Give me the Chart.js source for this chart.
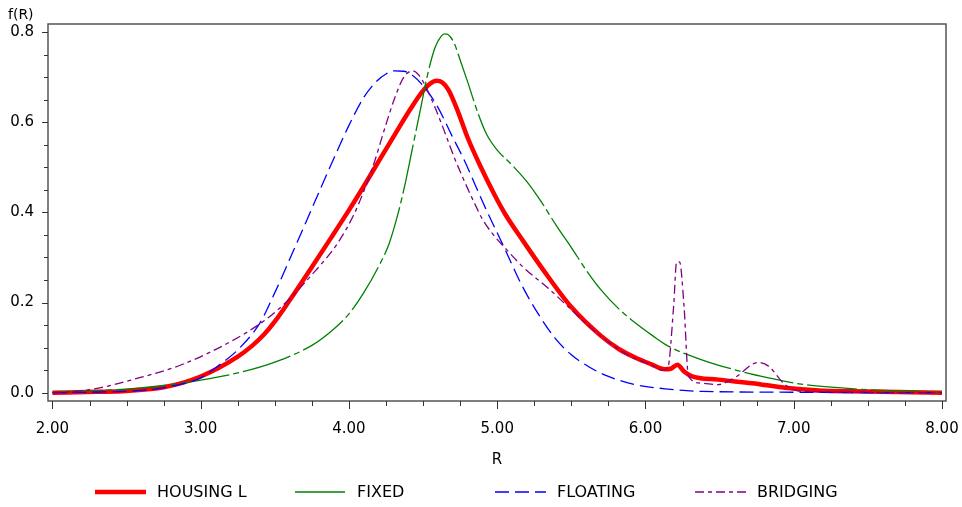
<!DOCTYPE html>
<html><head><meta charset="utf-8">
<script src="https://cdn.jsdelivr.net/npm/chart.js@4/dist/chart.umd.min.js"></script>
<style>html,body{margin:0;padding:0;background:#fff;}#wrap{width:962px;height:507px;}</style>
</head><body><div id="wrap"><canvas id="c" width="962" height="507"></canvas></div>
<script>
const seriesNames = ['HOUSING L', 'FIXED', 'FLOATING', 'BRIDGING'];

const housingR = [2.0, 2.3, 2.5, 2.75, 3.0, 3.25, 3.35, 3.43, 3.5, 3.6, 3.75, 3.88, 4.0, 4.1, 4.2, 4.31, 4.42, 4.5, 4.55, 4.59, 4.63, 4.67, 4.73, 4.80, 4.89, 4.98, 5.05, 5.18, 5.32, 5.50, 5.70, 5.82, 5.93, 6.04, 6.13, 6.17, 6.215, 6.26, 6.31, 6.49, 6.72, 6.94, 7.17, 7.39, 8.0];
const housingF = [0.0, 0.002, 0.004, 0.012, 0.036, 0.08, 0.105, 0.13, 0.158, 0.205, 0.279, 0.344, 0.405, 0.458, 0.513, 0.573, 0.632, 0.67, 0.686, 0.692, 0.688, 0.672, 0.628, 0.566, 0.5, 0.44, 0.398, 0.334, 0.268, 0.19, 0.126, 0.097, 0.078, 0.063, 0.052, 0.053, 0.062, 0.047, 0.037, 0.029, 0.021, 0.011, 0.005, 0.003, 0.0];

const fixedR = [2.0, 2.25, 2.5, 2.75, 3.0, 3.25, 3.5, 3.75, 3.9, 4.0, 4.1, 4.2, 4.27, 4.33, 4.38, 4.43, 4.48, 4.53, 4.58, 4.62, 4.645, 4.67, 4.71, 4.75, 4.80, 4.87, 4.93, 5.0, 5.1, 5.2, 5.3, 5.4, 5.5, 5.6, 5.7, 5.82, 5.93, 6.05, 6.15, 6.38, 6.6, 6.83, 7.05, 7.39, 7.6, 8.0];
const fixedF = [0.001, 0.004, 0.008, 0.016, 0.028, 0.044, 0.068, 0.105, 0.142, 0.175, 0.222, 0.28, 0.33, 0.396, 0.465, 0.545, 0.625, 0.705, 0.765, 0.79, 0.796, 0.794, 0.775, 0.738, 0.69, 0.62, 0.572, 0.538, 0.505, 0.468, 0.422, 0.37, 0.322, 0.272, 0.228, 0.186, 0.155, 0.126, 0.104, 0.073, 0.051, 0.033, 0.019, 0.009, 0.005, 0.001];

const floatingR = [2.0, 2.4, 2.6, 2.8, 3.0, 3.14, 3.25, 3.40, 3.50, 3.60, 3.72, 3.81, 3.90, 4.00, 4.10, 4.19, 4.25, 4.31, 4.37, 4.42, 4.51, 4.60, 4.69, 4.78, 4.85, 4.92, 5.05, 5.16, 5.28, 5.39, 5.50, 5.62, 5.75, 5.93, 6.15, 6.38, 7.0, 8.0];
const floatingF = [0.0, 0.002, 0.005, 0.014, 0.033, 0.065, 0.095, 0.155, 0.222, 0.296, 0.386, 0.454, 0.521, 0.593, 0.655, 0.692, 0.707, 0.714, 0.713, 0.706, 0.677, 0.633, 0.573, 0.514, 0.462, 0.41, 0.32, 0.242, 0.173, 0.121, 0.084, 0.057, 0.036, 0.018, 0.008, 0.003, 0.001, 0.0];

const bridgingR = [2.0, 2.19, 2.35, 2.53, 2.87, 3.2, 3.43, 3.59, 3.74, 3.92, 4.03, 4.10, 4.17, 4.24, 4.31, 4.37, 4.43, 4.47, 4.51, 4.58, 4.64, 4.71, 4.78, 4.85, 4.90, 4.96, 5.05, 5.18, 5.34, 5.50, 5.70, 5.90, 6.04, 6.11, 6.15, 6.19, 6.21, 6.23, 6.26, 6.29, 6.38, 6.49, 6.60, 6.76, 6.83, 6.94, 7.05, 8.0];
const bridgingF = [0.0, 0.004, 0.013, 0.028, 0.062, 0.113, 0.16, 0.205, 0.258, 0.33, 0.393, 0.447, 0.51, 0.585, 0.655, 0.7, 0.714, 0.705, 0.684, 0.633, 0.583, 0.522, 0.468, 0.418, 0.385, 0.356, 0.322, 0.277, 0.233, 0.184, 0.125, 0.08, 0.062, 0.05, 0.055, 0.192, 0.29, 0.29, 0.192, 0.036, 0.021, 0.018, 0.033, 0.067, 0.059, 0.018, 0.003, 0.0];

const xTickValues = [2, 3, 4, 5, 6, 7, 8];
const xTickLabels = ['2.00', '3.00', '4.00', '5.00', '6.00', '7.00', '8.00'];
const yTickValues = [0, 0.2, 0.4, 0.6, 0.8];
const yTickLabels = ['0.0', '0.2', '0.4', '0.6', '0.8'];
const xTitle = 'R';
const yTitle = 'f(R)';

function pts(xs, ys) { return xs.map((x, i) => ({ x: x, y: ys[i] })); }

const FONT = '"DejaVu Sans", Verdana, sans-serif';

const framePlugin = {
  id: 'frameTicks',
  afterDraw(chart) {
    const ctx = chart.ctx;
    const a = chart.chartArea;
    const xs = chart.scales.x, ys = chart.scales.y;
    ctx.save();
    ctx.strokeStyle = '#555';
    ctx.lineWidth = 1.5;
    ctx.strokeRect(a.left, a.top, a.right - a.left, a.bottom - a.top);
    ctx.lineWidth = 1;
    ctx.strokeStyle = '#333';
    ctx.beginPath();
    for (let k = 0; k <= 16; k++) {
      const v = k * 0.05;
      const py = Math.round(ys.getPixelForValue(v)) + 0.5;
      const len = (k % 4 === 0) ? 6 : 4;
      ctx.moveTo(a.left, py); ctx.lineTo(a.left - len, py);
    }
    for (let k = 0; k <= 24; k++) {
      const v = 2 + k * 0.25;
      const px = Math.round(xs.getPixelForValue(v)) + 0.5;
      const len = (k % 4 === 0) ? 8 : 5;
      ctx.moveTo(px, a.bottom); ctx.lineTo(px, a.bottom + len);
    }
    ctx.stroke();
    ctx.fillStyle = '#000';
    ctx.font = '14px ' + FONT;
    ctx.textAlign = 'left';
    ctx.textBaseline = 'middle';
    ctx.fillText(yTitle, 8, 15);
    ctx.font = '16px ' + FONT;
    chart.data.datasets.forEach((ds, i) => {
      const x0 = 95 + 200 * i, y0 = 492;
      ctx.save();
      ctx.strokeStyle = ds.borderColor;
      ctx.lineWidth = ds.borderWidth;
      ctx.setLineDash(ds.borderDash || []);
      ctx.beginPath(); ctx.moveTo(x0, y0); ctx.lineTo(x0 + 51, y0); ctx.stroke();
      ctx.restore();
      ctx.fillStyle = '#000';
      ctx.fillText(ds.label, x0 + 62, y0 + 1);
    });
    ctx.restore();
  }
};

new Chart(document.getElementById('c'), {
  type: 'line',
  data: {
    datasets: [
      { label: seriesNames[0], data: pts(housingR, housingF), borderColor: '#ff0000', borderWidth: 4.5, borderDash: [], order: 4 },
      { label: seriesNames[1], data: pts(fixedR, fixedF), borderColor: '#008000', borderWidth: 1.3, borderDash: [50, 4, 6, 4], order: 3 },
      { label: seriesNames[2], data: pts(floatingR, floatingF), borderColor: '#0000ff', borderWidth: 1.3, borderDash: [14, 6], order: 2 },
      { label: seriesNames[3], data: pts(bridgingR, bridgingF), borderColor: '#800080', borderWidth: 1.3, borderDash: [9, 4, 4, 4], order: 1 }
    ]
  },
  options: {
    responsive: false,
    animation: false,
    devicePixelRatio: 1,
    parsing: false,
    elements: { point: { radius: 0 }, line: { cubicInterpolationMode: 'monotone', fill: false } },
    layout: { padding: { top: 24, right: 16, bottom: 0, left: 0 } },
    plugins: { legend: { display: false }, tooltip: { enabled: false } },
    scales: {
      x: {
        type: 'linear', min: 1.970, max: 8.027,
        grid: { display: false }, border: { display: false },
        afterBuildTicks: s => { s.ticks = xTickValues.map(v => ({ value: v })); },
        afterFit: s => { s.height = 106; s.paddingLeft = 0; s.paddingRight = 0; },
        ticks: { padding: 11, color: '#000', font: { family: FONT, size: 15 }, maxRotation: 0, autoSkip: false,
          callback: v => xTickLabels[xTickValues.indexOf(v)] },
        title: { display: true, text: xTitle, color: '#000', font: { family: FONT, size: 15 }, padding: { top: 0, bottom: 38 } }
      },
      y: {
        type: 'linear', min: -0.0184, max: 0.8178,
        grid: { display: false }, border: { display: false },
        afterBuildTicks: s => { s.ticks = yTickValues.map(v => ({ value: v })); },
        afterFit: s => { s.width = 48; s.paddingTop = 0; s.paddingBottom = 0; },
        ticks: { padding: 6, color: '#000', font: { family: FONT, size: 15 },
          callback: v => yTickLabels[yTickValues.indexOf(v)] }
      }
    }
  },
  plugins: [framePlugin]
});
</script></body></html>
